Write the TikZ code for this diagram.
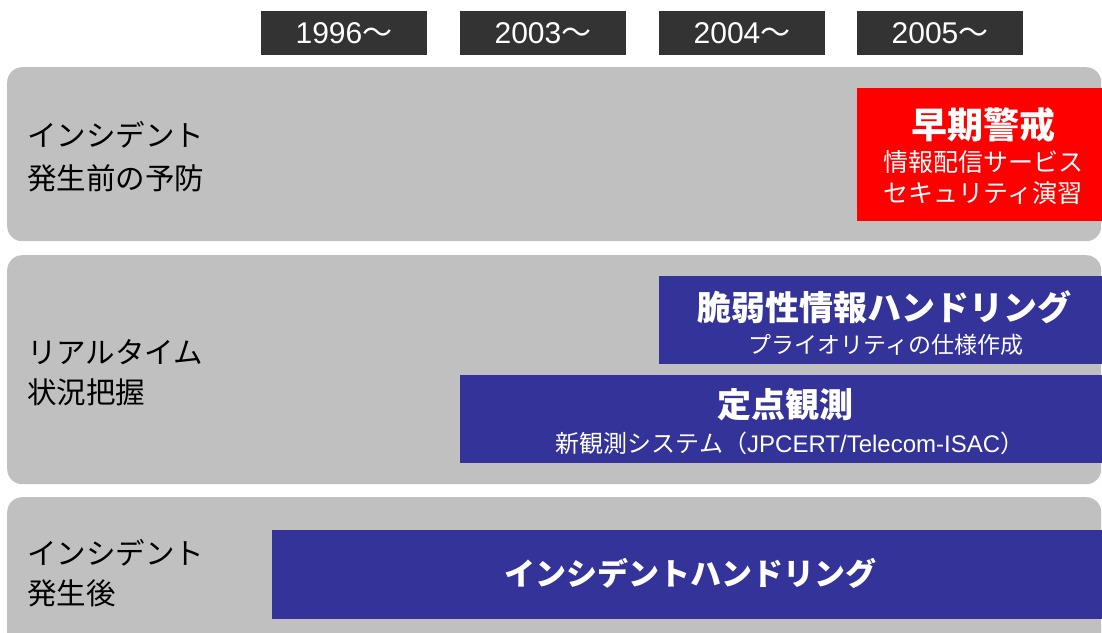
\documentclass[tikz,border=0pt]{standalone}
\usepackage{fontspec}
\setmainfont{Noto Sans CJK JP}
\newfontfamily\latfont{Liberation Sans}
\usepackage{tikz}
\usetikzlibrary{positioning}
\definecolor{BandGray}{RGB}{192,192,192}
\definecolor{YearGray}{RGB}{51,51,51}
\definecolor{TaskBlue}{RGB}{51,51,153}
\definecolor{TaskRed}{RGB}{255,0,0}

\begin{document}
\begin{tikzpicture}[x=1pt,y=-1pt,
  band/.style={fill=BandGray,rounded corners=15pt,anchor=north west,minimum width=1094pt,inner sep=0pt},
  yr/.style={fill=YearGray,text=white,minimum width=166pt,minimum height=44pt,inner sep=0pt,font=\fontsize{30}{30}\selectfont},
  task/.style n args={3}{fill=#1,anchor=north west,minimum width=#2pt,minimum height=#3pt,inner sep=0pt},
  lbl/.style={align=left,anchor=west,inner sep=0pt,font=\fontsize{29.5}{#1}\selectfont},
  ttl/.style={text=white,inner sep=0pt,font=\bfseries\fontsize{#1}{#1}\selectfont},
  sub/.style={text=white,inner sep=0pt,align=center,font=\fontsize{#1}{31}\selectfont}]
\useasboundingbox (0,0) rectangle (1102,632);
\clip (0,0) rectangle (1102,632);
\foreach \x/\1 in %
{344/1996,543/2003,742/2004,940/2005} {
   \node[yr] (y\1) at (\x,33) {{\latfont\1}〜};
}
\node[band,minimum height=174pt] (b1) at (7,67) {};
\node[band,minimum height=229pt] (b2) at (7,255) {};
\node[band,minimum height=160pt] (b3) at (7,497) {};
\node[lbl=43pt,right=20pt of b1.west,yshift=-2pt] (l1) {インシデント\\発生前の予防};
\node[lbl=40pt,right=20pt of b2.west,yshift=-3pt] (l2) {リアルタイム\\状況把握};
\node[lbl=40pt,right=20pt of b3.west,yshift=4pt] (l3) {インシデント\\発生後};
\node[task={TaskRed}{246}{133}] (n0) at (857,88) {};
\node[task={TaskBlue}{443}{88}] (n1) at (659,276) {};
\node[task={TaskBlue}{642}{88}] (n2) at (460,375) {};
\node[task={TaskBlue}{830}{89}] (n3) at (272,530) {};
\node[ttl=36] (t0) at (983,125) {早期警戒};
\node[sub=25] (s0) at (983,178) {情報配信サービス\\セキュリティ演習};
\node[ttl=34] (t1) at (884,307) {脆弱性情報ハンドリング};
\node[sub=23] (s1) at (886,345) {プライオリティの仕様作成};
\node[ttl=34] (t2) at (785,405) {定点観測};
\node[sub=24] (s2) at (790,443) {新観測システム（{\latfont JPCERT/Telecom-ISAC}）};
\node[ttl=31] (t3) at (690,573) {インシデントハンドリング};
\end{tikzpicture}
\end{document}
